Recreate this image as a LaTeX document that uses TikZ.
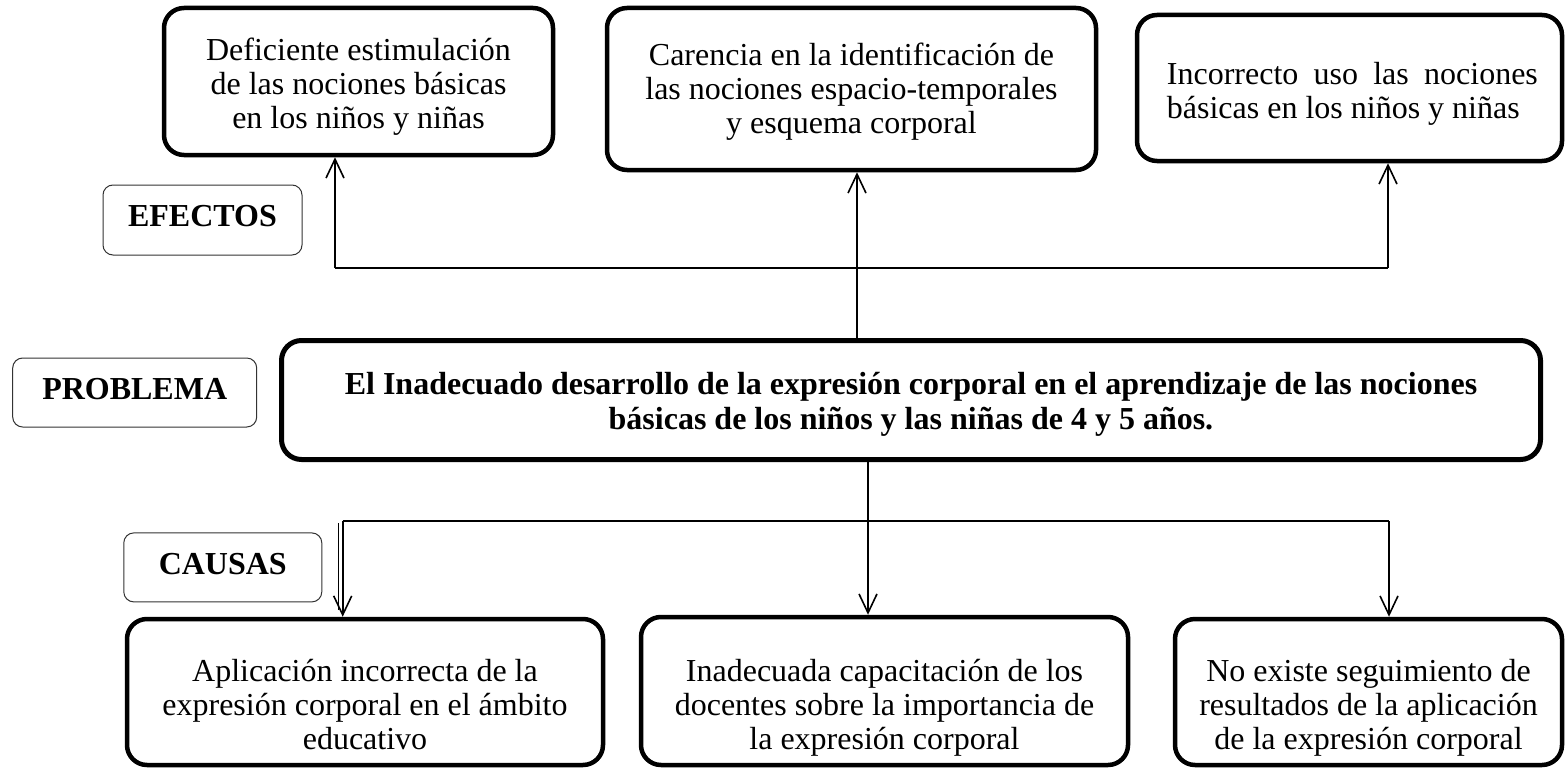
\documentclass[tikz,border=0pt]{standalone}
\usepackage{fontspec}
\setmainfont{Liberation Serif}
\usetikzlibrary{arrows.meta}
\begin{document}
\begin{tikzpicture}[x=1pt,y=-1pt,
  bigbox/.style={draw, line width=4.5pt, rounded corners=20pt, inner sep=0pt},
  lblbox/.style={draw=black!80, line width=1pt, rounded corners=10pt, inner sep=0pt, font=\fontsize{32}{34}\selectfont\bfseries},
  txt/.style={inner sep=0pt, align=center, font=\fontsize{32}{34}\selectfont},
  conn/.style={line width=1.6pt},
  arr/.style={conn, -{Straight Barb[length=19pt,width=18pt]}},
]
\useasboundingbox (0,0) rectangle (1565,768);
\fill[white] (0,0) rectangle (1565,768);

% effect boxes
\node[bigbox, minimum width=389pt, minimum height=147pt] (e1) at (358.5,81.5) {};
\node[bigbox, minimum width=489pt, minimum height=162pt] (e2) at (851.5,89) {};
\node[bigbox, minimum width=425pt, minimum height=146pt] (e3) at (1349.5,88) {};
\node[txt] (e1t) at (358.5,87.2) {\strut Deficiente estimulación\\de las nociones básicas\\en los niños y niñas\strut};
\node[txt] (e2t) at (851.5,92.2) {\strut Carencia en la identificación de\\las nociones espacio-temporales\\y esquema corporal\strut};
\node[txt, align=left, anchor=west] (e3t) at (1166.7,95) {\strut\makebox[371pt][s]{Incorrecto uso las nociones}\\básicas en los niños y niñas\strut};

% problem box
\node[bigbox, line width=5pt, minimum width=1259pt, minimum height=119pt] (main) at (911,400) {};
\node[txt, font=\fontsize{32}{35}\selectfont\bfseries] (maint) at (911,404.5) {\strut El Inadecuado desarrollo de la expresión corporal en el aprendizaje de las nociones\\básicas de los niños y las niñas de 4 y 5 años.\strut};

% cause boxes
\node[bigbox, minimum width=476pt, minimum height=146pt] (c1) at (365,692) {};
\node[bigbox, minimum width=487pt, minimum height=148pt] (c2) at (884.5,691) {};
\node[bigbox, minimum width=387pt, minimum height=146pt] (c3) at (1368.5,692) {};
\node[txt] (c1t) at (365,708.5) {\strut Aplicación incorrecta de la\\expresión corporal en el ámbito\\educativo\strut};
\node[txt] (c2t) at (884.5,708.5) {\strut Inadecuada capacitación de los\\docentes sobre la importancia de\\la expresión corporal\strut};
\node[txt] (c3t) at (1368.5,708.5) {\strut No existe seguimiento de\\resultados de la aplicación\\de la expresión corporal\strut};

% labels
\node[lblbox, minimum width=199pt, minimum height=70pt] (efectos) at (202.5,220) {\strut EFECTOS};
\node[lblbox, minimum width=244pt, minimum height=69pt] (problema) at (134.7,392.5) {\strut PROBLEMA};
\node[lblbox, minimum width=198pt, minimum height=69pt] (causas) at (222.8,567.4) {\strut CAUSAS};

% top connectors
\coordinate (tl) at (335,268);
\coordinate (tm) at (857,268);
\coordinate (tr) at (1388,268);
\draw[conn] (tl) -- (tr);
\draw[arr] (tl) -- (tl |- e1.south);
\draw[arr] (tr) -- (tr |- e3.south);
\draw[arr] (tm |- main.north) -- (tm |- e2.south);

% bottom connectors
\coordinate (bl) at (342.7,521);
\coordinate (bm) at (868,521);
\coordinate (br) at (1389,521);
\coordinate (bl2) at (338.3,523);
\draw[conn] (bl) -- (br);
\draw[arr] (bm |- main.south) -- (bm |- c2.north);
\draw[arr] (bl) -- (bl |- c1.north);
\draw[arr] (br) -- (br |- c3.north);
\draw[conn] (bl2) -- ++(0,87);
\end{tikzpicture}
\end{document}
